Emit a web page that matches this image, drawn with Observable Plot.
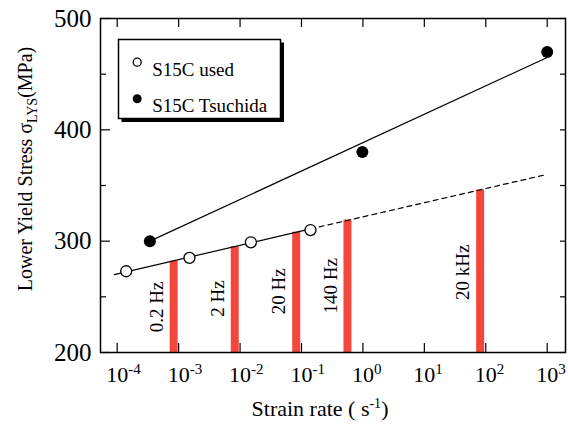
<!DOCTYPE html>
<html><head><meta charset="utf-8">
<script src="https://cdn.jsdelivr.net/npm/d3@7"></script>
<script src="https://cdn.jsdelivr.net/npm/@observablehq/plot@0.6"></script>
<style>body{margin:0;background:#fff} svg text{font-family:'Liberation Serif',serif !important}</style>
</head><body><div id="chart"></div>
<script>
// ---- data ----
const usedRate = [1.4e-4, 1.5e-3, 1.5e-2, 1.4e-1];
const usedStress = [273, 285, 299, 310];
const tsuchidaRate = [3.4e-4, 0.98, 1000];
const tsuchidaStress = [300, 380, 470];
const tsuchidaFitRate = [3.4e-4, 1000];
const tsuchidaFitStress = [300, 465];
const usedFitRate = [9e-5, 0.14];
const usedFitStress = [270, 311];
const usedExtRate = [0.14, 1000];
const usedExtStress = [311, 360];
const freqLabels = ["0.2 Hz", "2 Hz", "20 Hz", "140 Hz", "20 kHz"];
const freqRate = [8.3e-4, 8.2e-3, 8.2e-2, 0.56, 81];
const freqStress = [282, 295, 308, 319, 346];
const freqLabelStress = [241, 248.5, 255, 260, 272];
const xTicks = [1e-4, 1e-3, 1e-2, 1e-1, 1, 10, 100, 1000];
const yTicks = [200, 300, 400, 500];
const yMinorTicks = [250, 350, 450];
const legendLabels = ["S15C used", "S15C Tsuchida"];

const zip = (xs, ys) => xs.map((x, i) => ({rate: x, stress: ys[i]}));
const used = zip(usedRate, usedStress);
const tsuchida = zip(tsuchidaRate, tsuchidaStress);
const freq = freqLabels.map((label, i) => ({label, rate: freqRate[i], stress: freqStress[i], labelStress: freqLabelStress[i]}));

const FONT = "'Liberation Serif', serif";
const RED = "#f4473b";

const plot = Plot.plot({
  width: 568, height: 425,
  marginLeft: 100, marginRight: 3, marginTop: 18, marginBottom: 73,
  style: {fontFamily: FONT, background: "white", color: "black"},
  x: {type: "log", domain: [Math.pow(10, -4.272), Math.pow(10, 3.298)]},
  y: {domain: [200, 500]},
  marks: [
    // bars
    Plot.ruleX(freq, {x: "rate", y1: 200, y2: "stress", stroke: RED, strokeWidth: 8}),
    Plot.text(freq, {x: "rate", y: "labelStress", text: "label", rotate: -90, dx: -17, fontSize: 19, fill: "black", fontFamily: FONT}),
    // fit lines
    Plot.line(zip(tsuchidaFitRate, tsuchidaFitStress), {x: "rate", y: "stress", stroke: "black", strokeWidth: 1.2}),
    Plot.line(zip(usedFitRate, usedFitStress), {x: "rate", y: "stress", stroke: "black", strokeWidth: 1.2}),
    Plot.line(zip(usedExtRate, usedExtStress), {x: "rate", y: "stress", stroke: "black", strokeWidth: 1.2, strokeDasharray: "5,4"}),
    // points
    Plot.dot(used, {x: "rate", y: "stress", r: 5.5, fill: "white", stroke: "black", strokeWidth: 1.3}),
    Plot.dot(tsuchida, {x: "rate", y: "stress", r: 6, fill: "black"}),
    // ticks (inward)
    Plot.ruleX(xTicks, {stroke: "black", strokeWidth: 1.2, insetTop: 325}),
    Plot.ruleX(xTicks, {stroke: "black", strokeWidth: 1.2, insetBottom: 325}),
    Plot.ruleY(yTicks, {stroke: "black", strokeWidth: 1.2, insetRight: 455}),
    Plot.ruleY(yMinorTicks, {stroke: "black", strokeWidth: 1.2, insetRight: 459}),
    Plot.ruleY(yTicks.concat(yMinorTicks), {stroke: "black", strokeWidth: 1.2, insetLeft: 460}),
    // axes labels
    Plot.axisX(xTicks, {tickSize: 0, tickPadding: 14, fontSize: 22, label: null, tickFormat: d => String(Math.round(Math.log10(d)))}),
    Plot.axisY(yTicks, {tickSize: 0, tickPadding: 9, fontSize: 25, label: null}),
    // frame
    Plot.frame({stroke: "black", strokeWidth: 1.5}),
    // legend box
    Plot.frame({fill: "black", insetLeft: 21, insetTop: 24, insetRight: 281.5, insetBottom: 230.5}),
    Plot.frame({fill: "white", stroke: "black", strokeWidth: 1.5, insetLeft: 18, insetTop: 21, insetRight: 285, insetBottom: 234}),
    Plot.dot([legendLabels[0]], {frameAnchor: "top-left", dx: 36.7, dy: 43.7, r: 4, fill: "white", stroke: "black", strokeWidth: 1.3}),
    Plot.dot([legendLabels[1]], {frameAnchor: "top-left", dx: 36.7, dy: 80.3, r: 4.5, fill: "black"}),
    Plot.text([legendLabels[0]], {frameAnchor: "top-left", dx: 51.7, dy: 43.7, textAnchor: "start", fontSize: 19, fill: "black", fontFamily: FONT}),
    Plot.text([legendLabels[1]], {frameAnchor: "top-left", dx: 51.7, dy: 80.3, textAnchor: "start", fontSize: 19, fill: "black", fontFamily: FONT})
  ]
});
document.getElementById("chart").appendChild(plot);

const svg = d3.select(plot);
// superscript exponents on x tick labels
svg.selectAll('g[aria-label="x-axis tick label"] text').each(function() {
  const exp = this.textContent;
  const t = d3.select(this);
  t.text(null).attr("text-anchor", "start").attr("dx", -11);
  t.append("tspan").text("10");
  t.append("tspan").attr("dy", -8).attr("font-size", 15).text(exp);
});
// y title
const yt = svg.append("text")
  .attr("transform", "translate(32,169) rotate(-90)")
  .attr("text-anchor", "middle").attr("font-size", 20).attr("fill", "black");
yt.append("tspan").text("Lower Yield Stress σ");
yt.append("tspan").attr("font-size", 14).attr("dy", 5).text("LYS");
yt.append("tspan").attr("dy", -5).text("(MPa)");
// x title
const xt = svg.append("text")
  .attr("x", 320).attr("y", 416)
  .attr("text-anchor", "middle").attr("font-size", 22).attr("fill", "black");
xt.append("tspan").text("Strain rate ( s");
xt.append("tspan").attr("font-size", 14).attr("dy", -8).text("-1");
xt.append("tspan").attr("dy", 8).text(")");
</script>
</body></html>
